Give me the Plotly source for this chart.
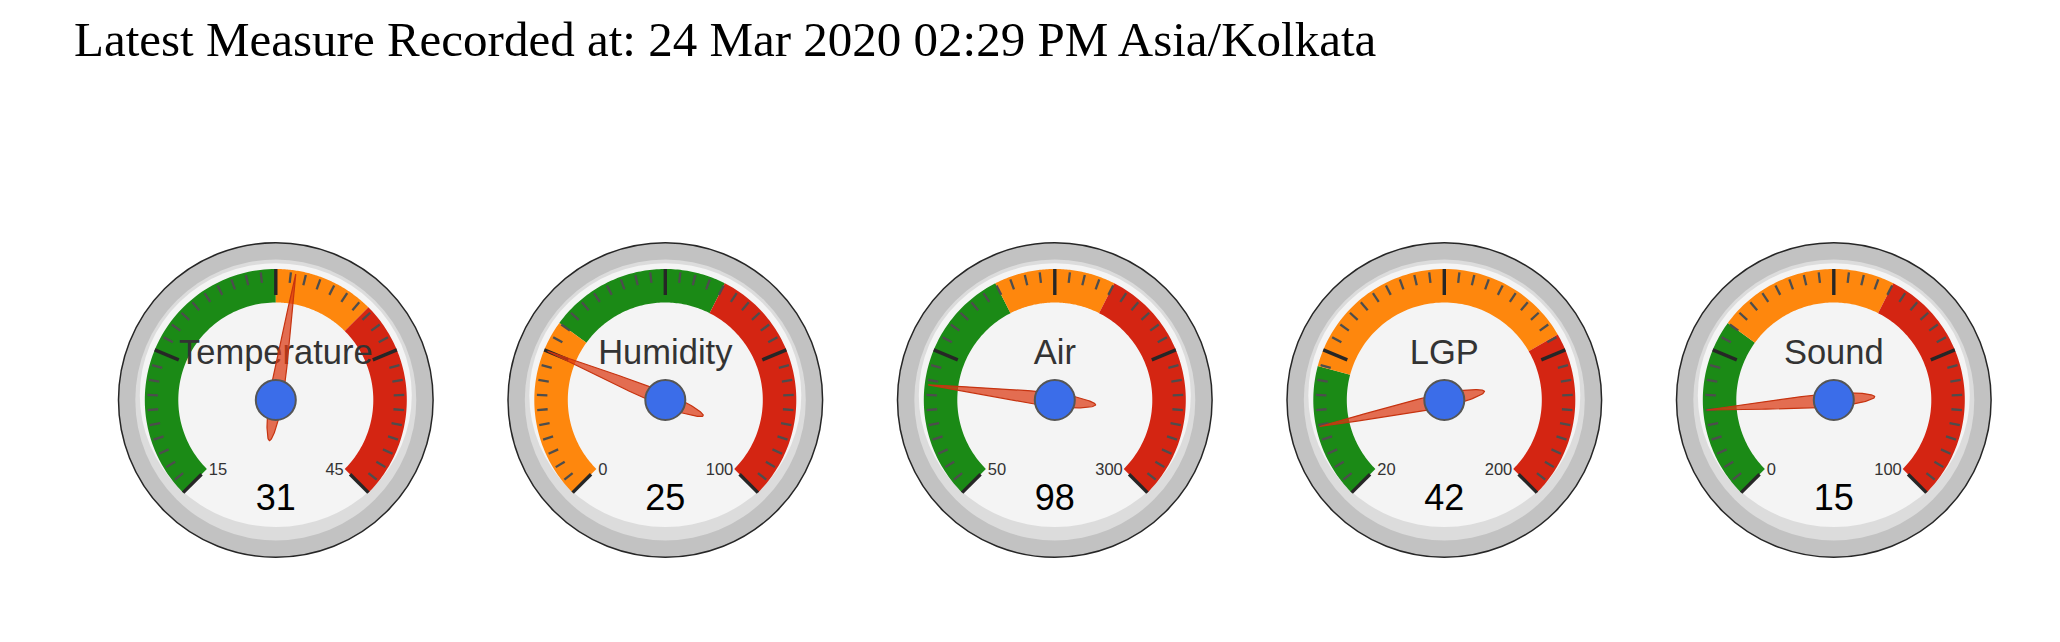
import numpy as np
import plotly.graph_objects as go

# ---------------- data ----------------
title_text = "Latest Measure Recorded at: 24 Mar 2020 02:29 PM Asia/Kolkata"
labels = ["Temperature", "Humidity", "Air", "LGP", "Sound"]
values = [31, 25, 98, 42, 15]
mins = [15, 0, 50, 20, 0]
maxs = [45, 100, 300, 200, 100]
green_ranges = [(15, 30), (30, 60), (50, 150), (20, 60), (0, 30)]
orange_ranges = [(30, 35), (0, 30), (150, 200), (60, 150), (30, 60)]
red_ranges = [(35, 45), (60, 100), (200, 300), (150, 200), (60, 100)]

# ---------------- style / geometry ----------------
W, H = 2060, 642
CX0, DX, CY = 275.8, 389.5, 400.0
R_OUT, R_MID = 157.3, 140.5
FACE_RX, FACE_UP, FACE_DOWN = 136.0, 136.7, 127.0
BAND_OUT, BAND_IN = 131.0, 97.5
MAJ_OUT, MAJ_IN = 131.0, 105.0
MIN_OUT, MIN_IN = 128.5, 118.0
N_MAJOR, N_MINOR = 4, 10
GREEN, ORANGE, RED = "#1b8a16", "#fe870d", "#d42512"
RN = 150.0

fig = go.Figure()
shapes = []


def ang(v, lo, hi):
    f = (v - lo) / (hi - lo)
    return np.radians(-135 + 270 * f)


def pt(cx, th, r):
    return cx + r * np.sin(th), CY - r * np.cos(th)


def bspline(ctrl, n=24):
    xs, ys = [], []
    c = np.array(ctrl)
    for i in range(len(c) - 3):
        P0, P1, P2, P3 = c[i:i + 4]
        for t in np.linspace(0, 1, n, endpoint=(i == len(c) - 4)):
            b = ((1 - t) ** 3 * P0 + (3 * t ** 3 - 6 * t ** 2 + 4) * P1 +
                 (-3 * t ** 3 + 3 * t ** 2 + 3 * t + 1) * P2 + t ** 3 * P3) / 6
            xs.append(b[0]); ys.append(b[1])
    return xs, ys


for i, (lab, val, lo, hi) in enumerate(zip(labels, values, mins, maxs)):
    cx = CX0 + i * DX
    shapes.append(dict(type="circle", xref="x", yref="y", layer="below",
                       x0=cx - R_OUT, x1=cx + R_OUT, y0=CY - R_OUT, y1=CY + R_OUT,
                       fillcolor="#c2c2c2", line=dict(color="#262626", width=1.5)))
    shapes.append(dict(type="circle", xref="x", yref="y", layer="below",
                       x0=cx - R_MID, x1=cx + R_MID, y0=CY - R_MID, y1=CY + R_MID,
                       fillcolor="#dcdcdc", line=dict(width=0)))
    shapes.append(dict(type="circle", xref="x", yref="y", layer="below",
                       x0=cx - FACE_RX, x1=cx + FACE_RX, y0=CY - FACE_UP, y1=CY + FACE_DOWN,
                       fillcolor="#f4f4f4", line=dict(width=0)))
    # bands
    for (a, b), col in ((green_ranges[i], GREEN), (orange_ranges[i], ORANGE), (red_ranges[i], RED)):
        th = np.linspace(ang(a, lo, hi), ang(b, lo, hi), 80)
        xo, yo = pt(cx, th, BAND_OUT)
        xi, yi = pt(cx, th[::-1], BAND_IN)
        fig.add_trace(go.Scatter(x=np.r_[xo, xi], y=np.r_[yo, yi], fill="toself",
                                 fillcolor=col, mode="none", hoverinfo="skip"))
    # ticks
    tmx, tmy, tnx, tny = [], [], [], []
    for k in range(N_MAJOR * N_MINOR + 1):
        v = lo + (hi - lo) * k / (N_MAJOR * N_MINOR)
        th = ang(v, lo, hi)
        if k % N_MINOR == 0:
            x1, y1 = pt(cx, th, MAJ_OUT); x2, y2 = pt(cx, th, MAJ_IN)
            tmx += [x1, x2, None]; tmy += [y1, y2, None]
        else:
            x1, y1 = pt(cx, th, MIN_OUT); x2, y2 = pt(cx, th, MIN_IN)
            tnx += [x1, x2, None]; tny += [y1, y2, None]
    fig.add_trace(go.Scatter(x=tnx, y=tny, mode="lines", line=dict(color="#4d4d4d", width=2.3),
                             hoverinfo="skip"))
    fig.add_trace(go.Scatter(x=tmx, y=tmy, mode="lines", line=dict(color="#262626", width=3.4),
                             hoverinfo="skip"))
    # texts
    fig.add_trace(go.Scatter(x=[cx], y=[CY - 45], mode="text", text=[lab],
                             textfont=dict(family="Liberation Sans, Arial", size=34.5, color="#333333"),
                             hoverinfo="skip"))
    fig.add_trace(go.Scatter(x=[cx], y=[CY + 100.8], mode="text", text=[str(val)],
                             textfont=dict(family="Liberation Sans, Arial", size=36, color="#000000"),
                             hoverinfo="skip"))
    fig.add_trace(go.Scatter(x=[cx - 67, cx + 68], y=[CY + 70.4, CY + 70.4], mode="text",
                             text=[str(lo), str(hi)], textposition=["middle right", "middle left"],
                             textfont=dict(family="Liberation Sans, Arial", size=16.5, color="#333333"),
                             hoverinfo="skip"))
    # needle
    th = ang(val, lo, hi)
    d = np.radians(270 / 13)
    tt = th - np.pi
    head = pt(cx, th, 0.85 * RN)
    h1 = pt(cx, th - d, 0.135 * RN); h2 = pt(cx, th + d, 0.135 * RN)
    tail = pt(cx, tt, 0.35 * RN)
    t1 = pt(cx, tt - d, 0.13 * RN); t2 = pt(cx, tt + d, 0.13 * RN)
    nx, ny = bspline([head, head, head, h1, t2, tail, t1, h2, head, head, head])
    fig.add_trace(go.Scatter(x=nx, y=ny, fill="toself", fillcolor="rgba(220,57,18,0.72)",
                             mode="lines", line=dict(color="#c63310", width=1.2), hoverinfo="skip"))
    # hub
    fig.add_trace(go.Scatter(x=[cx], y=[CY], mode="markers",
                             marker=dict(size=40, color="#3b6de9", line=dict(color="#555555", width=2)),
                             hoverinfo="skip"))

fig.add_annotation(x=72, y=39.5, xref="x", yref="y", text=title_text, showarrow=False,
                   xanchor="left", yanchor="middle",
                   font=dict(family="Liberation Serif", size=49, color="#000000"))

fig.update_layout(width=W, height=H, margin=dict(l=0, r=0, t=0, b=0),
                  paper_bgcolor="white", plot_bgcolor="white", showlegend=False,
                  hovermode=False, shapes=shapes,
                  xaxis=dict(range=[0, W], visible=False, fixedrange=True),
                  yaxis=dict(range=[H, 0], visible=False, fixedrange=True))

fig.write_html("out.html", config={"displayModeBar": False},
               post_script="document.body.style.margin='0';document.body.style.overflow='hidden';")
